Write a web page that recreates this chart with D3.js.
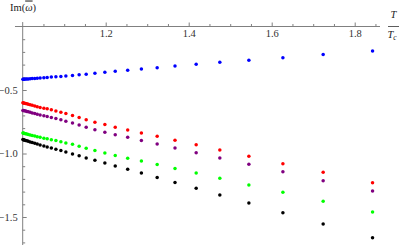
<!DOCTYPE html>
<html>
<head>
<meta charset="utf-8">
<script src="https://cdn.jsdelivr.net/npm/d3@7"></script>
<style>
  body { margin: 0; background: #fff; }
  svg { display: block; font-family: "Liberation Serif", "DejaVu Serif", serif; }
  .axis path, .axis line { stroke: #808080; }
  .axis text { fill: #333; font-size: 10.5px; font-family: "Liberation Serif", serif; }
</style>
</head>
<body>
<div id="chart"></div>
<script>
// T/Tc sample points (same for every mode)
var tRatio = [1.0005, 1.002, 1.004, 1.007, 1.010, 1.0135, 1.018, 1.023, 1.029, 1.035,
  1.042, 1.051, 1.059, 1.069, 1.080, 1.092, 1.104, 1.120, 1.136, 1.153,
  1.174, 1.198, 1.223, 1.253, 1.286, 1.324, 1.367, 1.418, 1.475, 1.545,
  1.627, 1.724, 1.843];

var blueVals = [-0.416, -0.416, -0.415, -0.414, -0.413, -0.413, -0.412, -0.410, -0.409, -0.407,
  -0.406, -0.403, -0.401, -0.398, -0.396, -0.393, -0.390, -0.385, -0.380, -0.375,
  -0.368, -0.361, -0.352, -0.344, -0.335, -0.324, -0.312, -0.298, -0.282, -0.265,
  -0.246, -0.221, -0.193];

var redVals = [-0.601, -0.602, -0.604, -0.606, -0.609, -0.613, -0.617, -0.621, -0.626, -0.632,
  -0.637, -0.643, -0.648, -0.656, -0.665, -0.675, -0.686, -0.700, -0.716, -0.734,
  -0.754, -0.772, -0.793, -0.815, -0.838, -0.865, -0.896, -0.932, -0.972, -1.022,
  -1.080, -1.148, -1.230];

var purpleVals = [-0.661, -0.662, -0.664, -0.666, -0.669, -0.672, -0.676, -0.681, -0.686, -0.691,
  -0.697, -0.702, -0.708, -0.716, -0.724, -0.735, -0.746, -0.760, -0.776, -0.794,
  -0.813, -0.832, -0.852, -0.873, -0.897, -0.925, -0.957, -0.994, -1.035, -1.085,
  -1.143, -1.214, -1.295];

var greenVals = [-0.839, -0.839, -0.842, -0.844, -0.847, -0.850, -0.854, -0.858, -0.863, -0.868,
  -0.873, -0.879, -0.884, -0.891, -0.898, -0.907, -0.917, -0.928, -0.942, -0.958,
  -0.977, -0.996, -1.016, -1.037, -1.059, -1.087, -1.118, -1.154, -1.195, -1.248,
  -1.306, -1.376, -1.461];

var blackVals = [-0.890, -0.891, -0.894, -0.897, -0.900, -0.904, -0.909, -0.914, -0.920, -0.926,
  -0.933, -0.940, -0.948, -0.957, -0.966, -0.977, -0.989, -1.003, -1.018, -1.035,
  -1.054, -1.075, -1.098, -1.124, -1.154, -1.188, -1.229, -1.274, -1.327, -1.390,
  -1.466, -1.555, -1.663];

var seriesVals = [blueVals, redVals, purpleVals, greenVals, blackVals];
var seriesColors = ['#0000ff', '#ff0000', '#800080', '#00ff00', '#000000'];

var xMajor = [1.2, 1.4, 1.6, 1.8];
var xMinor = [1.05, 1.1, 1.15, 1.25, 1.3, 1.35, 1.45, 1.5, 1.55, 1.65, 1.7, 1.75, 1.85];
var yMajor = [-0.5, -1.0, -1.5];
var yMinor = [-0.1, -0.2, -0.3, -0.4, -0.6, -0.7, -0.8, -0.9, -1.1, -1.2, -1.3, -1.4, -1.6, -1.7];

var width = 401, height = 245;

var svg = d3.select('#chart').append('svg')
  .attr('width', width)
  .attr('height', height);

var x = d3.scaleLinear().domain([1.0, 1.8]).range([22.7, 354.7]);
var y = d3.scaleLinear().domain([0, -1.5]).range([26.5, 217]);

// x axis (ticks point up, labels under the line)
var xAxisG = svg.append('g')
  .attr('class', 'axis')
  .attr('transform', 'translate(0,' + y(0) + ')');
xAxisG.call(d3.axisBottom(x).tickValues(xMajor).tickSizeInner(-4).tickSizeOuter(0)
  .tickPadding(3.5).tickFormat(d3.format('.1f')));
xAxisG.select('.domain').remove();
xAxisG.append('line')
  .attr('x1', x(0.9814)).attr('x2', x(1.861))
  .attr('stroke', '#808080');

svg.append('g')
  .attr('class', 'axis')
  .attr('transform', 'translate(0,' + y(0) + ')')
  .call(d3.axisBottom(x).tickValues(xMinor).tickSizeInner(-2.5).tickSizeOuter(0).tickFormat(''))
  .select('.domain').remove();

// y axis (ticks point right)
var yAxisG = svg.append('g')
  .attr('class', 'axis')
  .attr('transform', 'translate(' + x(1.0) + ',0)');
yAxisG.call(d3.axisLeft(y).tickValues(yMajor).tickSizeInner(-4).tickSizeOuter(0)
  .tickPadding(5).tickFormat(d3.format('.1f')));
yAxisG.select('.domain').remove();
yAxisG.append('line')
  .attr('y1', y(0.035)).attr('y2', y(-1.73))
  .attr('stroke', '#808080');

svg.append('g')
  .attr('class', 'axis')
  .attr('transform', 'translate(' + x(1.0) + ',0)')
  .call(d3.axisLeft(y).tickValues(yMinor).tickSizeInner(-2.5).tickSizeOuter(0).tickFormat(''))
  .select('.domain').remove();

// axis labels
var yLab = svg.append('text')
  .attr('x', 10).attr('y', 10.5)
  .style('font-size', '10.5px')
  .style('fill', '#222');
yLab.append('tspan').text('Im(');
yLab.append('tspan').style('font-style', 'italic')
  .style('text-decoration', 'overline').text('ω');
yLab.append('tspan').text(')');

var xl = 393.5;
svg.append('text')
  .attr('x', xl).attr('y', 18)
  .attr('text-anchor', 'middle')
  .style('font-size', '10.5px').style('font-style', 'italic').style('fill', '#222')
  .text('T');
svg.append('line')
  .attr('x1', xl - 5.5).attr('x2', xl + 5.5)
  .attr('y1', 26.5).attr('y2', 26.5)
  .attr('stroke', '#333').attr('stroke-width', 0.8);
var tc = svg.append('text')
  .attr('x', xl - 1.5).attr('y', 38)
  .attr('text-anchor', 'middle')
  .style('font-size', '10.5px').style('font-style', 'italic').style('fill', '#222');
tc.append('tspan').text('T');
tc.append('tspan').attr('dy', 2).style('font-size', '7.5px').text('c');

// points
seriesVals.forEach(function (vals, si) {
  svg.append('g')
    .selectAll('circle')
    .data(vals)
    .enter()
    .append('circle')
    .attr('cx', function (d, i) { return x(tRatio[i]); })
    .attr('cy', function (d) { return y(d); })
    .attr('r', 1.75)
    .attr('fill', seriesColors[si]);
});
</script>
</body>
</html>
